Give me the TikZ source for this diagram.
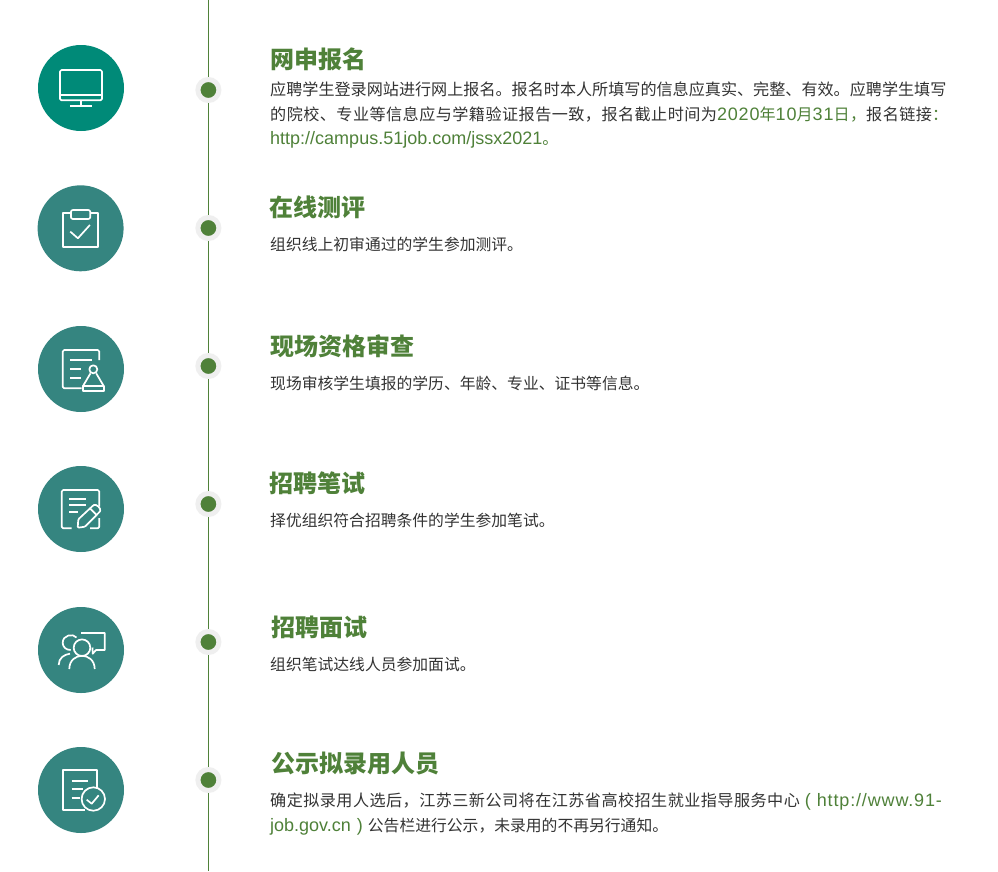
\documentclass[tikz,border=0pt]{standalone}
\usepackage{fontspec}
\setmainfont{Noto Sans CJK SC}
\newfontfamily\lat{Liberation Sans}
\definecolor{tealA}{HTML}{008A78}
\definecolor{tealB}{HTML}{358580}
\definecolor{leaf}{HTML}{4F8139}
\definecolor{ring}{HTML}{EFEFEF}
\definecolor{ink}{HTML}{333333}
\newcommand{\gr}[1]{\textcolor{leaf}{#1}}
\newcommand{\ltn}[1]{{\fontsize{18}{18}\selectfont\lat #1}}
\newcommand{\ltnw}[1]{{\fontsize{18}{18}\selectfont\lat\addfontfeature{LetterSpace=4.7}#1}}
\newcommand{\jst}{\addfontfeature{LetterSpace=2.9}}
\tikzset{
  badge/.style={circle,fill=tealB,minimum size=86pt,inner sep=0pt},
  stepdot/.style={circle,fill=leaf,draw=ring,line width=5pt,minimum size=21pt,inner sep=0pt},
  heading/.style={anchor=base west,inner sep=0pt,text=leaf,font=\fontsize{24}{24}\selectfont\bfseries},
  body/.style={anchor=base west,inner sep=0pt,text=ink,font=\fontsize{15.8}{16}\selectfont},
  bodywide/.style={body,font=\fontsize{16.1}{16}\selectfont},
  glyph/.style={draw=white,line width=1.7pt,line join=round,fill=none},
  rail/.style={draw=leaf,line width=1pt}
}
\begin{document}
\begin{tikzpicture}[x=1pt,y=-1pt]
\useasboundingbox[fill=white] (0,0) rectangle (998,871);
% rail
\coordinate (railtop) at (208.4,0);
\coordinate (railend) at (208.4,871);
\node[stepdot] (d1) at (208.4,90) {};
\node[stepdot] (d2) at (208.4,228) {};
\node[stepdot] (d3) at (208.4,366) {};
\node[stepdot] (d4) at (208.4,504) {};
\node[stepdot] (d5) at (208.4,642) {};
\node[stepdot] (d6) at (208.4,780) {};
\draw[rail] (railtop)--(d1);
\draw[rail] (d1)--(d2);
\draw[rail] (d2)--(d3);
\draw[rail] (d3)--(d4);
\draw[rail] (d4)--(d5);
\draw[rail] (d5)--(d6);
\draw[rail] (d6)--(railend);
% badges
\node[badge,fill=tealA] (c1) at (81,88) {};
\node[badge] (c2) at (80.6,228.3) {};
\node[badge] (c3) at (81,369) {};
\node[badge] (c4) at (81,509) {};
\node[badge] (c5) at (81,650) {};
\node[badge] (c6) at (81,790) {};
% icon 1 monitor
\begin{scope}[shift={(c1.center)}]
\draw[glyph,rounded corners=1.5pt] (-21,-18) rectangle (21,12.3);
\draw[glyph] (-21,7)--(21,7);
\draw[glyph] (0,12.3)--(0,18.3);
\draw[glyph] (-11,18.3)--(11,18.3);
\end{scope}
% icon 2 clipboard
\begin{scope}[shift={(c2.center)}]
\draw[glyph] (-9.7,-15)--(-17.7,-15)--(-17.7,19)--(17.3,19)--(17.3,-15)--(9.7,-15);
\draw[glyph,rounded corners=2pt] (-9.7,-18.3) rectangle (9.7,-9.3);
\draw[glyph] (-10.3,3.3)--(-2.7,10)--(9.3,-3.3);
\end{scope}
% icon 3 document and stamp
\begin{scope}[shift={(c3.center)}]
\draw[glyph,rounded corners=1.5pt] (18.3,-9)--(18.3,-19)--(-18.3,-19)--(-18.3,19.3)--(0.7,19.3);
\draw[glyph] (-11,-9)--(10.7,-9);
\draw[glyph] (-11,0)--(0,0);
\draw[glyph] (-11,9)--(0,9);
\draw[glyph] (12.3,0.3) circle[radius=4];
\draw[glyph] (9.5,4.3)--(2,17);
\draw[glyph] (15.2,4.3)--(22.7,17);
\draw[glyph] (1.7,17) rectangle (23,22);
\end{scope}
% icon 4 document and pencil
\begin{scope}[shift={(c4.center)}]
\draw[glyph,rounded corners=1.5pt] (18.3,-2.5)--(18.3,-19)--(-19.3,-19)--(-19.3,19.3)--(-9.3,19.3);
\draw[glyph,rounded corners=1.5pt] (9,19.3)--(18.3,19.3)--(18.3,9);
\draw[glyph] (-11.7,-10)--(5,-10);
\draw[glyph] (-11.7,-3.7)--(5,-3.7);
\draw[glyph] (-11.7,2.7)--(-2.7,2.7);
\draw[glyph,rounded corners=1pt] (-3.3,18.7)--(-2.7,10.3)--(12,-3.4) .. controls (15,-5.5) and (20.5,-0.5) .. (18.7,2.8)--(4,17.7)--cycle;
\draw[glyph] (9,-0.6)--(15.5,5.8);
\end{scope}
% icon 5 people and bubble
\begin{scope}[shift={(c5.center)}]
\draw[glyph] (-22.3,15) .. controls (-22.3,8) and (-17,4.5) .. (-11,3.7);
\draw[glyph] (-4.5,-12.5) .. controls (-8,-17) and (-18.3,-15) .. (-18.3,-7.3) .. controls (-18.3,-3) and (-15,0) .. (-10.3,0);
\draw[glyph] (1,-2.3) circle[radius=8.3];
\draw[glyph] (-11.7,19) .. controls (-11.7,10) and (-5,5.8) .. (1,5.8) .. controls (7,5.8) and (13.7,10) .. (13.7,19);
\draw[glyph] (0,-17)--(23.7,-17)--(23.7,0)--(15,0)--(11.7,3.7)--(11.5,-2.5);
\end{scope}
% icon 6 document and check
\begin{scope}[shift={(c6.center)}]
\draw[glyph] (15.7,-1.3)--(15.7,-19.7)--(-18.3,-19.7)--(-18.3,20.3)--(4,20.3);
\draw[glyph] (-9.3,-9)--(7.3,-9);
\draw[glyph] (-9.3,-0.7)--(2.3,-0.7);
\draw[glyph] (-9.3,8)--(-1,8);
\draw[glyph] (12.3,9) circle[radius=11.7];
\draw[glyph] (5.7,9.7)--(10.7,13.7)--(17.7,5.3);
\end{scope}
% text
\node[heading] (h1) at (270,68) {网申报名};
\node[bodywide] (b1a) at (270,95.5) {应聘学生登录网站进行网上报名。报名时本人所填写的信息应真实、完整、有效。应聘学生填写};
\node[bodywide] (b1b) at (270,120) {\jst 的院校、专业等信息应与学籍验证报告一致，报名截止时间为\gr{\ltnw{2020}年\ltnw{10}月\ltnw{31}日，}报名链接\gr{：}};
\node[bodywide] (b1c) at (270,144.5) {\gr{\ltn{http://campus.51job.com/jssx2021}。}};
\node[heading] (h2) at (269,216) {在线测评};
\node[body] (b2) at (270,250.5) {组织线上初审通过的学生参加测评。};
\node[heading] (h3) at (270,355) {现场资格审查};
\node[body] (b3) at (270,389.5) {现场审核学生填报的学历、年龄、专业、证书等信息。};
\node[heading] (h4) at (269,492) {招聘笔试};
\node[body] (b4) at (270,526.5) {择优组织符合招聘条件的学生参加笔试。};
\node[heading] (h5) at (271,636) {招聘面试};
\node[body] (b5) at (270,670.5) {组织笔试达线人员参加面试。};
\node[heading] (h6) at (271,772) {公示拟录用人员};
\node[bodywide] (b6a) at (270,806.5) {\jst 确定拟录用人选后，江苏三新公司将在江苏省高校招生就业指导服务中心\hspace{5pt}\gr{\ltnw{(\hspace{6pt}http://www.91-}}};
\node[body] (b6b) at (270,831) {\gr{\ltn{job.gov.cn\hspace{6pt})}}\hspace{5pt}公告栏进行公示，未录用的不再另行通知。};
\end{tikzpicture}
\end{document}
